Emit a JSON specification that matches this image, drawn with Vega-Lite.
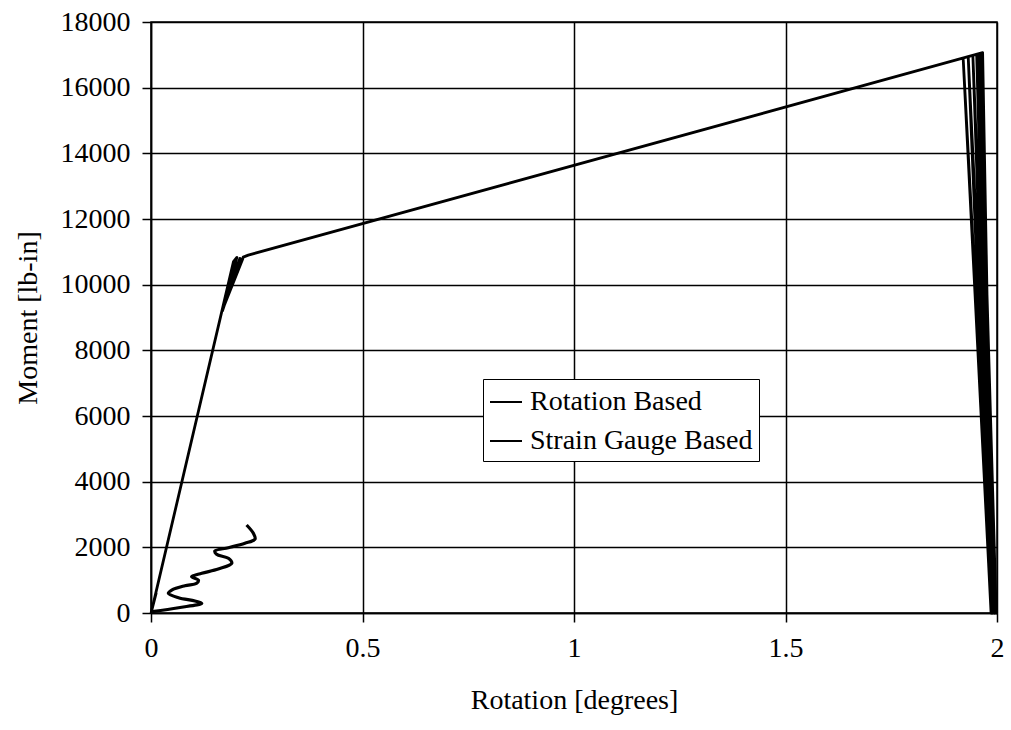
{
  "$schema": "https://vega.github.io/schema/vega-lite/v6.json",
  "width": 846,
  "height": 591,
  "autosize": {"type": "none"},
  "padding": {"left": 151, "top": 22, "right": 14, "bottom": 117},
  "background": "white",
  "config": {
    "font": "Liberation Serif",
    "view": {"stroke": "black", "strokeWidth": 1.5},
    "axis": {
      "labelFont": "Liberation Serif",
      "titleFont": "Liberation Serif",
      "labelFontSize": 28,
      "titleFontSize": 28,
      "labelColor": "black",
      "titleColor": "black",
      "titleFontWeight": "normal",
      "domainColor": "black",
      "domainWidth": 1.5,
      "tickColor": "black",
      "tickWidth": 1.5,
      "tickSize": 9,
      "gridColor": "black",
      "gridOpacity": 1,
      "gridWidth": 1.5
    }
  },
  "data": {
    "values": [
      {"series": "Rotation Based", "i": 1, "rot": 0, "m": 0},
      {"series": "Rotation Based", "i": 2, "rot": 0.012, "m": 600},
      {"series": "Rotation Based", "i": 3, "rot": 0.001, "m": 40},
      {"series": "Rotation Based", "i": 4, "rot": 0.195, "m": 10700},
      {"series": "Rotation Based", "i": 5, "rot": 0.203, "m": 10830},
      {"series": "Rotation Based", "i": 6, "rot": 0.169, "m": 9200},
      {"series": "Rotation Based", "i": 7, "rot": 0.21, "m": 10800},
      {"series": "Rotation Based", "i": 8, "rot": 0.171, "m": 9300},
      {"series": "Rotation Based", "i": 9, "rot": 0.217, "m": 10790},
      {"series": "Rotation Based", "i": 10, "rot": 0.173, "m": 9400},
      {"series": "Rotation Based", "i": 11, "rot": 0.218, "m": 10840},
      {"series": "Rotation Based", "i": 12, "rot": 0.23, "m": 10900},
      {"series": "Rotation Based", "i": 13, "rot": 1.966, "m": 17066},
      {"series": "Rotation Based", "i": 14, "rot": 1.99, "m": 0},
      {"series": "Rotation Based", "i": 15, "rot": 1.92, "m": 16895},
      {"series": "Rotation Based", "i": 16, "rot": 1.986, "m": 0},
      {"series": "Rotation Based", "i": 17, "rot": 1.932, "m": 16925},
      {"series": "Rotation Based", "i": 18, "rot": 1.995, "m": 0},
      {"series": "Rotation Based", "i": 19, "rot": 1.943, "m": 16966},
      {"series": "Rotation Based", "i": 20, "rot": 1.988, "m": 0},
      {"series": "Rotation Based", "i": 21, "rot": 1.952, "m": 17000},
      {"series": "Rotation Based", "i": 22, "rot": 1.998, "m": 0},
      {"series": "Rotation Based", "i": 23, "rot": 1.96, "m": 17027},
      {"series": "Rotation Based", "i": 24, "rot": 1.993, "m": 0},
      {"series": "Rotation Based", "i": 25, "rot": 1.956, "m": 17010},
      {"series": "Rotation Based", "i": 26, "rot": 1.997, "m": 0},
      {"series": "Strain Gauge Based", "i": 1, "rot": 0.003, "m": 40},
      {"series": "Strain Gauge Based", "i": 2, "rot": 0.065, "m": 161},
      {"series": "Strain Gauge Based", "i": 3, "rot": 0.12, "m": 295},
      {"series": "Strain Gauge Based", "i": 4, "rot": 0.104, "m": 365},
      {"series": "Strain Gauge Based", "i": 5, "rot": 0.065, "m": 466},
      {"series": "Strain Gauge Based", "i": 6, "rot": 0.041, "m": 600},
      {"series": "Strain Gauge Based", "i": 7, "rot": 0.049, "m": 700},
      {"series": "Strain Gauge Based", "i": 8, "rot": 0.08, "m": 832},
      {"series": "Strain Gauge Based", "i": 9, "rot": 0.108, "m": 905},
      {"series": "Strain Gauge Based", "i": 10, "rot": 0.112, "m": 1005},
      {"series": "Strain Gauge Based", "i": 11, "rot": 0.096, "m": 1106},
      {"series": "Strain Gauge Based", "i": 12, "rot": 0.12, "m": 1209},
      {"series": "Strain Gauge Based", "i": 13, "rot": 0.159, "m": 1340},
      {"series": "Strain Gauge Based", "i": 14, "rot": 0.191, "m": 1514},
      {"series": "Strain Gauge Based", "i": 15, "rot": 0.183, "m": 1666},
      {"series": "Strain Gauge Based", "i": 16, "rot": 0.155, "m": 1788},
      {"series": "Strain Gauge Based", "i": 17, "rot": 0.151, "m": 1888},
      {"series": "Strain Gauge Based", "i": 18, "rot": 0.183, "m": 1989},
      {"series": "Strain Gauge Based", "i": 19, "rot": 0.222, "m": 2123},
      {"series": "Strain Gauge Based", "i": 20, "rot": 0.246, "m": 2254},
      {"series": "Strain Gauge Based", "i": 21, "rot": 0.242, "m": 2428},
      {"series": "Strain Gauge Based", "i": 22, "rot": 0.226, "m": 2680}
    ]
  },
  "encoding": {
    "x": {
      "field": "rot",
      "type": "quantitative",
      "title": "Rotation [degrees]",
      "scale": {"domain": [0, 2], "nice": false, "zero": false},
      "axis": {"values": [0, 0.5, 1, 1.5, 2], "format": "~g", "labelPadding": 12, "titlePadding": 24, "labelFlush": false}
    },
    "y": {
      "field": "m",
      "type": "quantitative",
      "title": "Moment [lb-in]",
      "scale": {"domain": [0, 18000], "nice": false},
      "axis": {"values": [0, 2000, 4000, 6000, 8000, 10000, 12000, 14000, 16000, 18000], "format": "d", "labelPadding": 12, "titlePadding": 18}
    },
    "color": {
      "field": "series",
      "type": "nominal",
      "scale": {"domain": ["Rotation Based", "Strain Gauge Based"], "range": ["black", "black"]},
      "legend": {
        "title": null,
        "orient": "none",
        "legendX": 332,
        "legendY": 357,
        "direction": "vertical",
        "fillColor": "white",
        "strokeColor": "black",
        "padding": 6,
        "symbolType": "stroke",
        "symbolSize": 1024,
        "symbolStrokeWidth": 2,
        "symbolStrokeColor": "black",
        "labelFont": "Liberation Serif",
        "labelFontSize": 28,
        "labelColor": "black",
        "labelOffset": 7,
        "rowPadding": 8,
        "labelLimit": 400
      }
    },
    "order": {"field": "i", "type": "quantitative"}
  },
  "layer": [
    {
      "transform": [{"filter": "datum.series === 'Rotation Based'"}],
      "mark": {"type": "line", "strokeWidth": 2.8, "interpolate": "linear", "strokeJoin": "round"}
    },
    {
      "transform": [{"filter": "datum.series === 'Strain Gauge Based'"}],
      "mark": {"type": "line", "strokeWidth": 3.2, "interpolate": "catmull-rom", "strokeJoin": "round"}
    }
  ]
}
